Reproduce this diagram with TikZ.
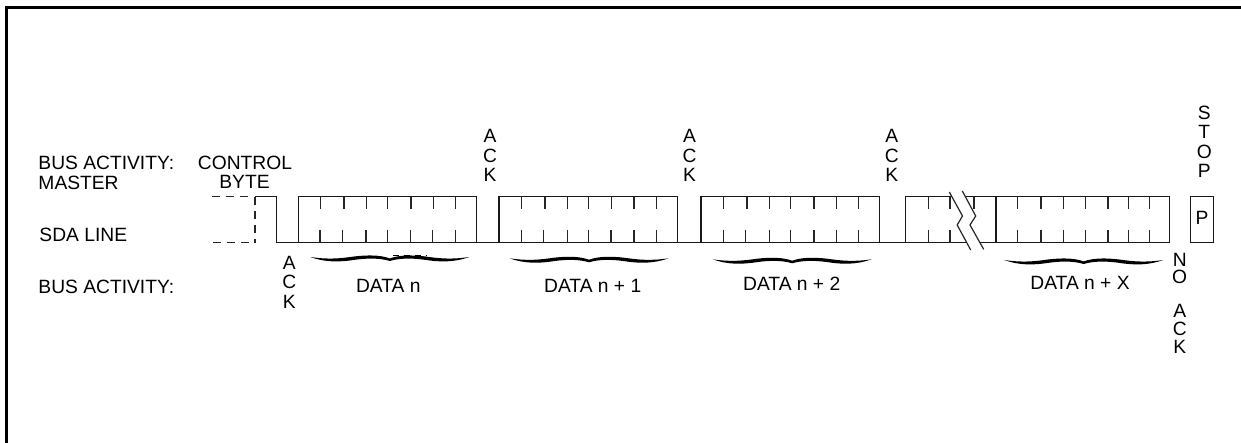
\documentclass[tikz,border=0pt]{standalone}
\usepackage{fontspec}
\setmainfont{Liberation Sans}
\tikzset{
  wire/.style={line width=1.3pt,black!90},
  tick/.style={line width=1.2pt,black!85},
  frameline/.style={line width=2.6pt,black},
  dashwire/.style={line width=1.1pt,black!85,dash pattern=on 8pt off 6pt},
  lab/.style={font=\fontsize{19.3}{19.6}\selectfont,inner sep=0pt,text=black,anchor=base},
  stack/.style={lab,align=center},
  leftlab/.style={lab,anchor=base west},
  curly/.style={fill=black,draw=none},
}
\newcommand{\ticksTop}[1]{\foreach \tx in {#1}{\draw[tick] (\tx,196.7) -- (\tx,209);}}
\newcommand{\ticksBot}[1]{\foreach \tx in {#1}{\draw[tick] (\tx,230) -- (\tx,242.7);}}
\newcommand{\curlybrace}[2]{%
 \begin{scope}[shift={(#1,#2)}]
 \fill[curly] (-79.5,0) .. controls (-65,5.4) and (-50,5.2) .. (-35,2.8)
   .. controls (-22,1) and (-10,1) .. (0,4)
   .. controls (10,1) and (22,1) .. (35,2.8)
   .. controls (50,5.2) and (65,5.4) .. (79.5,0)
   .. controls (62,2.6) and (50,1.6) .. (35,-0.6)
   .. controls (22,-2) and (10,-2.2) .. (0,1.4)
   .. controls (-10,-2.2) and (-22,-2) .. (-35,-0.6)
   .. controls (-50,1.6) and (-62,2.6) .. (-79.5,0) -- cycle;
 \end{scope}}
\begin{document}
\begin{tikzpicture}[x=1bp,y=-1bp]
\useasboundingbox (0,0) rectangle (1241,443);
\fill[white] (0,0) rectangle (1241,443);
% frame
\draw[frameline] (6.6,443) -- (6.6,7.4) -- (1241,7.4);
% dashed lead-in
\draw[dashwire] (212,196.7) -- (248,196.7);
\draw[dashwire] (213,242.7) -- (250,242.7);
\draw[dashwire] (255,196.7) -- (255,242.7);
% pulse and low line
\draw[wire] (255,196.7) -- (276.7,196.7) -- (276.7,242.7) -- (1169.7,242.7);
% data boxes
\draw[wire] (298.3,242.7) |- (476.7,196.7) -- (476.7,242.7);
\draw[wire] (499,242.7) |- (677.7,196.7) -- (677.7,242.7);
\draw[wire] (701,242.7) |- (879.7,196.7) -- (879.7,242.7);
\draw[wire] (905.7,242.7) |- (1169.7,196.7) -- (1169.7,242.7);
\draw[wire] (996,196.7) -- (996,242.7);
\draw[wire] (1190.7,196.7) rectangle (1213.3,242.7);
% ticks
\ticksTop{320.7,344,366.7,387.3,411,433.3,455.7}
\ticksBot{320,342.7,366,387.3,410.7,432.7,455.7}
\ticksTop{521.3,545,567.3,588.3,611.7,634,656.3}
\ticksBot{521.3,543.3,567.3,588.3,611,634,656.3}
\ticksTop{723.3,747,769.3,790.3,814,836.3,858.7}
\ticksBot{723.3,745.7,769.3,790.3,814,836.3,858.7}
\ticksTop{928.7,950,974,1017.3,1041,1063.3,1085.7,1108,1128.7,1149.3}
\ticksBot{928.3,950,1017.3,1041,1063.3,1085.7,1108,1128.7,1149.3}
% break
\fill[white] (949.3,192) -- (962.5,216) -- (957.2,225) -- (970.7,250) -- (983.7,249.3) -- (970,225) -- (975.7,216) -- (962.3,191) -- cycle;
\draw[tick] (949.3,192) -- (962.5,216) -- (957.2,225) -- (970.7,250);
\draw[tick] (962.3,191) -- (975.7,216) -- (970,225) -- (983.7,249.3);
% braces
\curlybrace{389.8}{257}
\curlybrace{589}{258.3}
\curlybrace{792.2}{259.3}
\curlybrace{1083.7}{260}
\draw[line width=.8pt,dash pattern=on 6pt off 5pt] (393,255.2) -- (427,255.2);
% labels
\node[leftlab] (busm) at (38.3,169.3) {BUS ACTIVITY:};
\node[leftlab] (mast) at (38.3,189.3) {MASTER};
\node[leftlab] (sda) at (39.3,241.7) {SDA LINE};
\node[leftlab] (busb) at (38.3,294) {BUS ACTIVITY:};
\node[lab] (ctrl) at (245,170) {CONTROL};
\node[lab] (byte) at (244.5,189) {BYTE};
\node[stack] (ack1) at (490,182) {A\\C\\K};
\node[stack] (ack0) at (289.3,308.5) {A\\C\\K};
\node[stack] (ack2) at (689.5,182) {A\\C\\K};
\node[stack] (ack3) at (891.7,182) {A\\C\\K};
\node[stack] (stop) at (1204.3,178) {S\\T\\O\\P};
\node[lab] (p) at (1202,225) {P};
\node[lab,font=\fontsize{19.3}{17.6}\selectfont,align=center] (no) at (1179.7,284) {N\\O};
\node[lab,font=\fontsize{19.3}{18}\selectfont,align=center] (nack) at (1179.7,353.3) {A\\C\\K};
\node[lab] (d0) at (388.3,292.5) {DATA n};
\node[lab] (d1) at (592.7,292.5) {DATA n + 1};
\node[lab] (d2) at (791.7,290.7) {DATA n + 2};
\node[lab] (dx) at (1080,290) {DATA n + X};
\end{tikzpicture}
\end{document}
